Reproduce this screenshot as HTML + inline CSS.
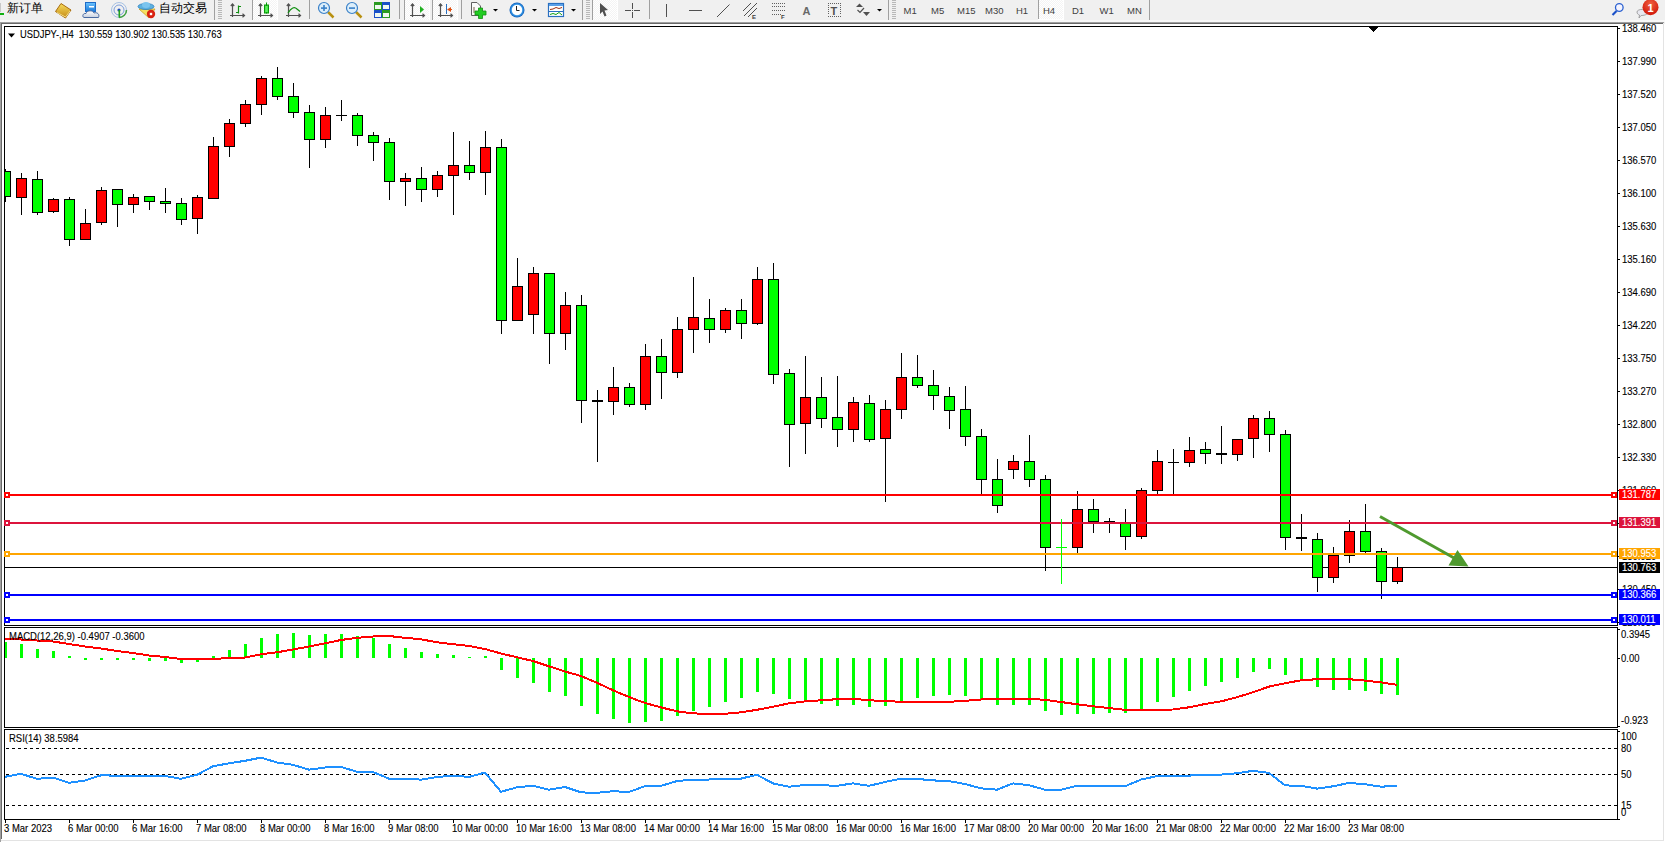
<!DOCTYPE html>
<html><head><meta charset="utf-8"><style>
html,body{margin:0;padding:0;}
body{width:1665px;height:842px;overflow:hidden;background:#f0f0f0;position:relative;font-family:"Liberation Sans", sans-serif;}
text{font-family:"Liberation Sans", sans-serif;}
</style></head><body>
<svg width="1665" height="22" viewBox="0 0 1665 22" style="position:absolute;left:0;top:0">
<defs>
<linearGradient id="gold" x1="0" y1="0" x2="0" y2="1"><stop offset="0" stop-color="#f7dc5a"/><stop offset="1" stop-color="#c48a18"/></linearGradient>
<linearGradient id="cloud" x1="0" y1="0" x2="0" y2="1"><stop offset="0" stop-color="#ffffff"/><stop offset="1" stop-color="#c8d0e0"/></linearGradient>
<linearGradient id="blu" x1="0" y1="0" x2="0" y2="1"><stop offset="0" stop-color="#6cc4ff"/><stop offset="1" stop-color="#1a78d8"/></linearGradient>
<radialGradient id="clk" cx="0.5" cy="0.5" r="0.5"><stop offset="0.6" stop-color="#ffffff"/><stop offset="0.75" stop-color="#3a9ae8"/><stop offset="1" stop-color="#0d5cb8"/></radialGradient>
<radialGradient id="badge" cx="0.5" cy="0.3" r="0.6"><stop offset="0" stop-color="#f06040"/><stop offset="1" stop-color="#d42010"/></radialGradient>
<pattern id="chk" width="2" height="2" patternUnits="userSpaceOnUse"><rect width="2" height="2" fill="#f4f4f4"/><rect width="1" height="1" fill="#ffffff"/><rect x="1" y="1" width="1" height="1" fill="#ffffff"/></pattern>
</defs>
<rect x="0" y="0" width="1665" height="20" fill="#f0f0f0"/>
<!-- partial new order icon -->
<rect x="0" y="13" width="4" height="2" fill="#10b010"/>
<rect x="0" y="3" width="1" height="9" fill="#c8c8c8"/>
<text x="7" y="12.4" font-size="12" fill="#000" font-family="'Liberation Sans', sans-serif">新订单</text>
<!-- gold book -->
<polygon points="55.5,11.5 61,3.5 71,10 65.5,18" fill="url(#gold)" stroke="#a86c10" stroke-width="1"/>
<polyline points="57,12.5 65.5,17 70,11" fill="none" stroke="#fff2a0" stroke-width="0.8"/>
<!-- cloud/box icon -->
<rect x="85.5" y="2.5" width="10" height="9" fill="url(#blu)" stroke="#1e6cc8" stroke-width="1"/>
<rect x="89" y="6" width="5" height="1.5" fill="#ffffff"/>
<path d="M84,17.5 C82,17 82.5,13 86,13.5 C87,10 93,10 94,13 C97,12 100,14 98.5,17.5 Z" fill="url(#cloud)" stroke="#4a6aa0" stroke-width="1"/>
<!-- signal icon -->
<g fill="none" stroke-width="1">
<circle cx="119" cy="10" r="7.5" stroke="#6a9ad8" opacity="0.55"/>
<circle cx="119" cy="10" r="5" stroke="#4a7ad0" opacity="0.7"/>
<path d="M119,17.5 A7.5,7.5 0 0 0 126.5,10" stroke="#40a040" stroke-width="1.5"/>
</g>
<circle cx="119" cy="10" r="1.6" fill="#2050c0"/>
<rect x="118.5" y="10" width="1.6" height="7.5" fill="#20a020"/>
<!-- auto trading icon -->
<polygon points="139,9 155,9 149,18" fill="#f4e060" stroke="#c8a020" stroke-width="0.8"/>
<ellipse cx="146" cy="6.5" rx="8" ry="3" fill="#5cb0e0" stroke="#2a80c0" stroke-width="0.8"/>
<ellipse cx="146" cy="5" rx="4" ry="3" fill="#7ac4ee"/>
<circle cx="151" cy="14" r="4.2" fill="#d82010"/>
<rect x="149.8" y="12.8" width="2.4" height="2.4" fill="#fff"/>
<text x="159.2" y="12.2" font-size="11.8" fill="#000" font-family="'Liberation Sans', sans-serif">自动交易</text>
<!-- separators & grips -->
<g fill="#a0a0a0">
<rect x="214" y="0" width="1" height="20"/>
<rect x="309" y="0" width="1" height="19"/>
<rect x="399" y="0" width="1" height="19"/>
<rect x="461" y="0" width="1" height="19"/>
<rect x="582" y="0" width="1" height="22"/>
<rect x="649" y="0" width="1" height="19"/>
<rect x="888" y="0" width="1" height="22"/>
<rect x="1149" y="0" width="1" height="20"/>
</g>
<g fill="#b8b8b8">
<rect x="218" y="0" width="4" height="1"/><rect x="218" y="2" width="4" height="1"/><rect x="218" y="4" width="4" height="1"/><rect x="218" y="6" width="4" height="1"/><rect x="218" y="8" width="4" height="1"/><rect x="218" y="10" width="4" height="1"/><rect x="218" y="12" width="4" height="1"/><rect x="218" y="14" width="4" height="1"/><rect x="218" y="16" width="4" height="1"/><rect x="218" y="18" width="4" height="1"/>
<rect x="586" y="0" width="4" height="1"/><rect x="586" y="2" width="4" height="1"/><rect x="586" y="4" width="4" height="1"/><rect x="586" y="6" width="4" height="1"/><rect x="586" y="8" width="4" height="1"/><rect x="586" y="10" width="4" height="1"/><rect x="586" y="12" width="4" height="1"/><rect x="586" y="14" width="4" height="1"/><rect x="586" y="16" width="4" height="1"/><rect x="586" y="18" width="4" height="1"/>
<rect x="892" y="0" width="4" height="1"/><rect x="892" y="2" width="4" height="1"/><rect x="892" y="4" width="4" height="1"/><rect x="892" y="6" width="4" height="1"/><rect x="892" y="8" width="4" height="1"/><rect x="892" y="10" width="4" height="1"/><rect x="892" y="12" width="4" height="1"/><rect x="892" y="14" width="4" height="1"/><rect x="892" y="16" width="4" height="1"/><rect x="892" y="18" width="4" height="1"/>
</g>
<!-- pressed buttons -->
<g>
<rect x="253" y="0" width="24" height="20" fill="url(#chk)"/><rect x="252" y="0" width="1" height="20" fill="#a0a0a0"/><rect x="252" y="20" width="26" height="1" fill="#fff"/><rect x="277" y="0" width="1" height="21" fill="#fff"/>
<rect x="405" y="0" width="24" height="20" fill="url(#chk)"/><rect x="404" y="0" width="1" height="20" fill="#a0a0a0"/><rect x="404" y="20" width="26" height="1" fill="#fff"/><rect x="429" y="0" width="1" height="21" fill="#fff"/>
<rect x="433" y="0" width="24" height="20" fill="url(#chk)"/><rect x="432" y="0" width="1" height="20" fill="#a0a0a0"/><rect x="432" y="20" width="26" height="1" fill="#fff"/><rect x="457" y="0" width="1" height="21" fill="#fff"/>
<rect x="593" y="0" width="24" height="20" fill="url(#chk)"/><rect x="592" y="0" width="1" height="20" fill="#a0a0a0"/><rect x="592" y="20" width="26" height="1" fill="#fff"/><rect x="617" y="0" width="1" height="21" fill="#fff"/>
<rect x="1039" y="0" width="24" height="19" fill="url(#chk)"/><rect x="1038" y="0" width="1" height="19" fill="#a0a0a0"/><rect x="1038" y="19" width="26" height="1" fill="#fff"/><rect x="1063" y="0" width="1" height="20" fill="#fff"/>
</g>
<!-- chart type icons: axes -->
<g fill="none" stroke="#505050" stroke-width="1.2">
<path d="M232.5,4.5 V17 M230,15.5 H244"/><path d="M230.8,6 L232.5,4 L234.2,6 M242.5,13.8 L244.5,15.5 L242.5,17.2"/>
<path d="M260.5,4.5 V17 M258,15.5 H272"/><path d="M258.8,6 L260.5,4 L262.2,6 M270.5,13.8 L272.5,15.5 L270.5,17.2"/>
<path d="M288.5,4.5 V17 M286,15.5 H300"/><path d="M286.8,6 L288.5,4 L290.2,6 M298.5,13.8 L300.5,15.5 L298.5,17.2"/>
<path d="M412.5,4.5 V17 M410,15.5 H424"/><path d="M410.8,6 L412.5,4 L414.2,6 M422.5,13.8 L424.5,15.5 L422.5,17.2"/>
<path d="M440.5,4.5 V17 M438,15.5 H452"/><path d="M438.8,6 L440.5,4 L442.2,6 M450.5,13.8 L452.5,15.5 L450.5,17.2"/>
</g>
<g fill="none" stroke="#109010" stroke-width="1.2">
<path d="M238.5,5.5 V13.5 M238.5,6.5 H241 M236,12.5 H238.5"/>
<path d="M288,13 Q293,5 297,9 L300,11.5" />
</g>
<rect x="264.5" y="5" width="4" height="8" fill="#40e040" stroke="#0a9a0a" stroke-width="1"/>
<rect x="266" y="2.5" width="1" height="11" fill="#0a9a0a"/>
<rect x="265.5" y="6" width="2" height="6" fill="#60f060"/>
<polygon points="420,6 424,9.5 420,13" fill="#20b020"/>
<rect x="446" y="4" width="1" height="10" fill="#2a70c0"/>
<polygon points="447,9.5 451,7 451,12" fill="#e05010"/><rect x="449" y="9" width="3" height="1" fill="#e05010"/>
<!-- zoom icons -->
<g>
<line x1="328" y1="12" x2="333.5" y2="17.5" stroke="#b89010" stroke-width="2.5"/>
<circle cx="324" cy="8" r="5.5" fill="#dceefa" stroke="#3a80c8" stroke-width="1.2"/>
<rect x="321" y="7.3" width="6" height="1.6" fill="#3a80c8"/><rect x="323.2" y="5" width="1.6" height="6" fill="#3a80c8"/>
<line x1="356" y1="12" x2="361.5" y2="17.5" stroke="#b89010" stroke-width="2.5"/>
<circle cx="352" cy="8" r="5.5" fill="#dceefa" stroke="#3a80c8" stroke-width="1.2"/>
<rect x="349" y="7.3" width="6" height="1.6" fill="#3a80c8"/>
</g>
<!-- tile windows -->
<rect x="374" y="2" width="8" height="8" fill="#2a9a20"/><rect x="382" y="2" width="8" height="8" fill="#1a50c8"/>
<rect x="374" y="10" width="8" height="8" fill="#1a50c8"/><rect x="382" y="10" width="8" height="8" fill="#2a9a20"/>
<g fill="#f0f8f0"><rect x="375" y="5" width="6" height="4"/><rect x="383" y="5" width="6" height="4"/><rect x="375" y="13" width="6" height="4"/><rect x="383" y="13" width="6" height="4"/></g>
<!-- indicators icon -->
<path d="M471.5,2.5 H477 L480.5,6 V15.5 H471.5 Z" fill="#fafafa" stroke="#606060" stroke-width="1"/>
<path d="M474,7 V13" stroke="#604020" stroke-width="0.8"/>
<path d="M478.5,8 H482.5 V11 H486 V15 H482.5 V18.5 H478.5 V15 H475 V11 H478.5 Z" fill="#22cc22" stroke="#109010" stroke-width="0.8"/>
<polygon points="493,9 498,9 495.5,11.5" fill="#000"/>
<!-- clock -->
<circle cx="517" cy="10" r="7.5" fill="url(#clk)"/>
<circle cx="517" cy="10" r="5" fill="#fff"/>
<path d="M516.5,6 V10.5 H519.5" stroke="#202020" stroke-width="1" fill="none"/>
<polygon points="532,9 537,9 534.5,11.5" fill="#000"/>
<!-- templates -->
<rect x="548.5" y="3.5" width="15" height="13" fill="#fff" stroke="#2a70c0" stroke-width="1.2"/>
<rect x="549" y="4" width="14" height="2" fill="#5aa0e8"/>
<rect x="549" y="11" width="14" height="1" fill="#2a70c0"/>
<polyline points="550,9.5 553,9 556,7.5 559,8.5 562,7.5" fill="none" stroke="#a03010" stroke-width="1"/>
<polyline points="550,14.5 553,13.5 556,14.5 559,12.5 562,15" fill="none" stroke="#10a010" stroke-width="1"/>
<polygon points="571,9 576,9 573.5,11.5" fill="#000"/>
<!-- cursor -->
<polygon points="600,3 608,10 604.5,10.5 606.5,15.5 604.5,16.5 602.5,11.5 600,14" fill="#505050"/>
<!-- crosshair -->
<rect x="632" y="3" width="1" height="15" fill="#505050"/><rect x="625" y="10" width="15" height="1" fill="#505050"/><rect x="631" y="9" width="3" height="3" fill="#f0f0f0"/><rect x="632" y="10" width="1" height="1" fill="#505050"/>
<!-- line tools -->
<rect x="666" y="4" width="1" height="13" fill="#505050"/>
<rect x="689" y="10" width="13" height="1" fill="#505050"/>
<line x1="717" y1="17" x2="729.5" y2="4.5" stroke="#505050" stroke-width="1"/>
<g stroke="#505050" stroke-width="1"><line x1="743" y1="11" x2="751" y2="3"/><line x1="744" y1="16" x2="757" y2="3"/><line x1="748" y1="17" x2="757" y2="8"/></g>
<text x="752" y="19" font-size="6" font-weight="bold" fill="#404040" font-family="'Liberation Sans', sans-serif">E</text>
<g fill="#606060"><rect x="772" y="3" width="14" height="1" fill="none"/></g>
<g stroke="#606060" stroke-width="1" stroke-dasharray="1,1"><line x1="772" y1="3.5" x2="786" y2="3.5"/><line x1="772" y1="6.5" x2="786" y2="6.5"/><line x1="772" y1="10.5" x2="786" y2="10.5"/><line x1="772" y1="14.5" x2="781" y2="14.5"/></g>
<text x="781" y="19" font-size="6" font-weight="bold" fill="#404040" font-family="'Liberation Sans', sans-serif">F</text>
<text x="802.5" y="15" font-size="11" font-weight="bold" fill="#686868" font-family="'Liberation Sans', sans-serif">A</text>
<g fill="#606060"><rect x="828" y="3" width="1" height="1"/><rect x="830" y="3" width="1" height="1"/><rect x="832" y="3" width="1" height="1"/><rect x="834" y="3" width="1" height="1"/><rect x="836" y="3" width="1" height="1"/><rect x="838" y="3" width="1" height="1"/><rect x="840" y="3" width="1" height="1"/><rect x="828" y="16" width="1" height="1"/><rect x="830" y="16" width="1" height="1"/><rect x="832" y="16" width="1" height="1"/><rect x="834" y="16" width="1" height="1"/><rect x="836" y="16" width="1" height="1"/><rect x="838" y="16" width="1" height="1"/><rect x="840" y="16" width="1" height="1"/><rect x="828" y="5" width="1" height="1"/><rect x="828" y="7" width="1" height="1"/><rect x="828" y="9" width="1" height="1"/><rect x="828" y="11" width="1" height="1"/><rect x="828" y="13" width="1" height="1"/><rect x="840" y="5" width="1" height="1"/><rect x="840" y="7" width="1" height="1"/><rect x="840" y="9" width="1" height="1"/><rect x="840" y="11" width="1" height="1"/><rect x="840" y="13" width="1" height="1"/></g>
<text x="830.5" y="14.5" font-size="11" font-weight="bold" fill="#505050" font-family="'Liberation Sans', sans-serif">T</text>
<polygon points="856,7 859.5,3.5 863,7" fill="#505050"/><polygon points="863,12 870,12 866.5,16" fill="#505050"/>
<polyline points="857.5,10 860,12.5 864,8" fill="none" stroke="#505050" stroke-width="1.2"/>
<polygon points="877,9 882,9 879.5,11.5" fill="#000"/>
<!-- timeframes -->
<g font-size="9.5" fill="#404040" font-family="'Liberation Sans', sans-serif">
<text x="903.5" y="14">M1</text><text x="931" y="14">M5</text><text x="957" y="14">M15</text><text x="985" y="14">M30</text><text x="1016" y="14">H1</text><text x="1043" y="14">H4</text><text x="1072" y="14">D1</text><text x="1099.5" y="14">W1</text><text x="1127" y="14">MN</text>
</g>
<!-- search & chat -->
<line x1="1612.5" y1="15" x2="1616.5" y2="11" stroke="#1a50c8" stroke-width="2.2"/>
<circle cx="1619.3" cy="7.5" r="3.8" fill="#f4f4ff" stroke="#2a60d0" stroke-width="1.3"/>
<path d="M1637,12 C1637,8.5 1648,8.5 1648,12 C1648,15 1643,15.5 1641,15.5 L1639,18 L1639.5,15 C1638,14.5 1637,13.5 1637,12 Z" fill="#e8e8f0" stroke="#909090" stroke-width="0.8"/>
<circle cx="1650.5" cy="7.2" r="8" fill="url(#badge)"/>
<text x="1650.5" y="11.5" font-size="11" font-weight="bold" fill="#fff" text-anchor="middle" font-family="'Liberation Sans', sans-serif">1</text>
</svg>

<svg width="1665" height="842" viewBox="0 0 1665 842" style="position:absolute;left:0;top:0" font-family='"Liberation Sans", sans-serif'>
<defs><clipPath id="cm"><rect x="5" y="27" width="1612" height="598"/></clipPath><clipPath id="cmacd"><rect x="5" y="628" width="1612" height="99"/></clipPath><clipPath id="crsi"><rect x="5" y="730" width="1612" height="89"/></clipPath></defs>
<rect x="0" y="20" width="1665" height="2" fill="#f8f8f8"/>
<rect x="0" y="22" width="1664" height="1" fill="#a0a0a0"/>
<rect x="0" y="23" width="1663" height="1" fill="#696969"/>
<rect x="0" y="24" width="1665" height="818" fill="#ffffff"/>
<rect x="0" y="22" width="1" height="820" fill="#a0a0a0"/>
<rect x="1" y="23" width="1" height="816" fill="#696969"/>
<rect x="1663" y="24" width="1" height="817" fill="#e3e3e3"/>
<rect x="1" y="840" width="1663" height="1" fill="#e3e3e3"/>
<g shape-rendering="crispEdges">
<rect x="4" y="26" width="1614" height="1" fill="#000"/>
<rect x="4" y="625" width="1614" height="1" fill="#000"/>
<rect x="4" y="26" width="1" height="600" fill="#000"/>
<rect x="1617" y="26" width="1" height="600" fill="#000"/>
<rect x="4" y="627" width="1614" height="1" fill="#000"/>
<rect x="4" y="727" width="1614" height="1" fill="#000"/>
<rect x="4" y="627" width="1" height="101" fill="#000"/>
<rect x="1617" y="627" width="1" height="101" fill="#000"/>
<rect x="4" y="729" width="1614" height="1" fill="#000"/>
<rect x="4" y="819" width="1614" height="1" fill="#000"/>
<rect x="4" y="729" width="1" height="91" fill="#000"/>
<rect x="1617" y="729" width="1" height="91" fill="#000"/>
<g clip-path="url(#cm)">
<rect x="5" y="567" width="1612" height="1" fill="#000"/>
<rect x="5" y="169" width="1" height="33" fill="#000"/>
<rect x="0" y="171" width="11" height="26" fill="#000"/>
<rect x="1" y="172" width="9" height="24" fill="#00ff00"/>
<rect x="21" y="173" width="1" height="42" fill="#000"/>
<rect x="16" y="178" width="11" height="20" fill="#000"/>
<rect x="17" y="179" width="9" height="18" fill="#ff0000"/>
<rect x="37" y="171" width="1" height="44" fill="#000"/>
<rect x="32" y="179" width="11" height="34" fill="#000"/>
<rect x="33" y="180" width="9" height="32" fill="#00ff00"/>
<rect x="53" y="198" width="1" height="15" fill="#000"/>
<rect x="48" y="199" width="11" height="13" fill="#000"/>
<rect x="49" y="200" width="9" height="11" fill="#ff0000"/>
<rect x="69" y="197" width="1" height="49" fill="#000"/>
<rect x="64" y="199" width="11" height="41" fill="#000"/>
<rect x="65" y="200" width="9" height="39" fill="#00ff00"/>
<rect x="85" y="209" width="1" height="31" fill="#000"/>
<rect x="80" y="223" width="11" height="17" fill="#000"/>
<rect x="81" y="224" width="9" height="15" fill="#ff0000"/>
<rect x="101" y="187" width="1" height="38" fill="#000"/>
<rect x="96" y="190" width="11" height="33" fill="#000"/>
<rect x="97" y="191" width="9" height="31" fill="#ff0000"/>
<rect x="117" y="189" width="1" height="38" fill="#000"/>
<rect x="112" y="189" width="11" height="16" fill="#000"/>
<rect x="113" y="190" width="9" height="14" fill="#00ff00"/>
<rect x="133" y="194" width="1" height="19" fill="#000"/>
<rect x="128" y="197" width="11" height="8" fill="#000"/>
<rect x="129" y="198" width="9" height="6" fill="#ff0000"/>
<rect x="149" y="196" width="1" height="14" fill="#000"/>
<rect x="144" y="196" width="11" height="6" fill="#000"/>
<rect x="145" y="197" width="9" height="4" fill="#00ff00"/>
<rect x="165" y="188" width="1" height="25" fill="#000"/>
<rect x="160" y="201" width="11" height="3" fill="#000"/>
<rect x="161" y="202" width="9" height="1" fill="#00ff00"/>
<rect x="181" y="198" width="1" height="27" fill="#000"/>
<rect x="176" y="203" width="11" height="17" fill="#000"/>
<rect x="177" y="204" width="9" height="15" fill="#00ff00"/>
<rect x="197" y="195" width="1" height="39" fill="#000"/>
<rect x="192" y="197" width="11" height="22" fill="#000"/>
<rect x="193" y="198" width="9" height="20" fill="#ff0000"/>
<rect x="213" y="137" width="1" height="62" fill="#000"/>
<rect x="208" y="146" width="11" height="53" fill="#000"/>
<rect x="209" y="147" width="9" height="51" fill="#ff0000"/>
<rect x="229" y="119" width="1" height="38" fill="#000"/>
<rect x="224" y="123" width="11" height="24" fill="#000"/>
<rect x="225" y="124" width="9" height="22" fill="#ff0000"/>
<rect x="245" y="100" width="1" height="27" fill="#000"/>
<rect x="240" y="104" width="11" height="20" fill="#000"/>
<rect x="241" y="105" width="9" height="18" fill="#ff0000"/>
<rect x="261" y="76" width="1" height="39" fill="#000"/>
<rect x="256" y="78" width="11" height="27" fill="#000"/>
<rect x="257" y="79" width="9" height="25" fill="#ff0000"/>
<rect x="277" y="67" width="1" height="33" fill="#000"/>
<rect x="272" y="78" width="11" height="19" fill="#000"/>
<rect x="273" y="79" width="9" height="17" fill="#00ff00"/>
<rect x="293" y="83" width="1" height="35" fill="#000"/>
<rect x="288" y="96" width="11" height="17" fill="#000"/>
<rect x="289" y="97" width="9" height="15" fill="#00ff00"/>
<rect x="309" y="105" width="1" height="63" fill="#000"/>
<rect x="304" y="112" width="11" height="28" fill="#000"/>
<rect x="305" y="113" width="9" height="26" fill="#00ff00"/>
<rect x="325" y="107" width="1" height="41" fill="#000"/>
<rect x="320" y="115" width="11" height="25" fill="#000"/>
<rect x="321" y="116" width="9" height="23" fill="#ff0000"/>
<rect x="341" y="100" width="1" height="21" fill="#000"/>
<rect x="336" y="115" width="11" height="1" fill="#000"/>
<rect x="357" y="113" width="1" height="33" fill="#000"/>
<rect x="352" y="115" width="11" height="21" fill="#000"/>
<rect x="353" y="116" width="9" height="19" fill="#00ff00"/>
<rect x="373" y="132" width="1" height="29" fill="#000"/>
<rect x="368" y="135" width="11" height="8" fill="#000"/>
<rect x="369" y="136" width="9" height="6" fill="#00ff00"/>
<rect x="389" y="138" width="1" height="62" fill="#000"/>
<rect x="384" y="142" width="11" height="40" fill="#000"/>
<rect x="385" y="143" width="9" height="38" fill="#00ff00"/>
<rect x="405" y="173" width="1" height="33" fill="#000"/>
<rect x="400" y="178" width="11" height="4" fill="#000"/>
<rect x="401" y="179" width="9" height="2" fill="#ff0000"/>
<rect x="421" y="167" width="1" height="35" fill="#000"/>
<rect x="416" y="178" width="11" height="12" fill="#000"/>
<rect x="417" y="179" width="9" height="10" fill="#00ff00"/>
<rect x="437" y="171" width="1" height="26" fill="#000"/>
<rect x="432" y="175" width="11" height="15" fill="#000"/>
<rect x="433" y="176" width="9" height="13" fill="#ff0000"/>
<rect x="453" y="132" width="1" height="83" fill="#000"/>
<rect x="448" y="165" width="11" height="11" fill="#000"/>
<rect x="449" y="166" width="9" height="9" fill="#ff0000"/>
<rect x="469" y="141" width="1" height="39" fill="#000"/>
<rect x="464" y="165" width="11" height="8" fill="#000"/>
<rect x="465" y="166" width="9" height="6" fill="#00ff00"/>
<rect x="485" y="131" width="1" height="64" fill="#000"/>
<rect x="480" y="147" width="11" height="26" fill="#000"/>
<rect x="481" y="148" width="9" height="24" fill="#ff0000"/>
<rect x="501" y="139" width="1" height="195" fill="#000"/>
<rect x="496" y="147" width="11" height="174" fill="#000"/>
<rect x="497" y="148" width="9" height="172" fill="#00ff00"/>
<rect x="517" y="258" width="1" height="63" fill="#000"/>
<rect x="512" y="286" width="11" height="35" fill="#000"/>
<rect x="513" y="287" width="9" height="33" fill="#ff0000"/>
<rect x="533" y="267" width="1" height="67" fill="#000"/>
<rect x="528" y="273" width="11" height="42" fill="#000"/>
<rect x="529" y="274" width="9" height="40" fill="#ff0000"/>
<rect x="549" y="273" width="1" height="91" fill="#000"/>
<rect x="544" y="273" width="11" height="61" fill="#000"/>
<rect x="545" y="274" width="9" height="59" fill="#00ff00"/>
<rect x="565" y="292" width="1" height="58" fill="#000"/>
<rect x="560" y="305" width="11" height="29" fill="#000"/>
<rect x="561" y="306" width="9" height="27" fill="#ff0000"/>
<rect x="581" y="295" width="1" height="128" fill="#000"/>
<rect x="576" y="305" width="11" height="96" fill="#000"/>
<rect x="577" y="306" width="9" height="94" fill="#00ff00"/>
<rect x="597" y="390" width="1" height="72" fill="#000"/>
<rect x="592" y="400" width="11" height="2" fill="#000"/>
<rect x="613" y="367" width="1" height="48" fill="#000"/>
<rect x="608" y="387" width="11" height="15" fill="#000"/>
<rect x="609" y="388" width="9" height="13" fill="#ff0000"/>
<rect x="629" y="383" width="1" height="24" fill="#000"/>
<rect x="624" y="387" width="11" height="18" fill="#000"/>
<rect x="625" y="388" width="9" height="16" fill="#00ff00"/>
<rect x="645" y="344" width="1" height="66" fill="#000"/>
<rect x="640" y="356" width="11" height="49" fill="#000"/>
<rect x="641" y="357" width="9" height="47" fill="#ff0000"/>
<rect x="661" y="339" width="1" height="60" fill="#000"/>
<rect x="656" y="356" width="11" height="17" fill="#000"/>
<rect x="657" y="357" width="9" height="15" fill="#00ff00"/>
<rect x="677" y="317" width="1" height="61" fill="#000"/>
<rect x="672" y="329" width="11" height="44" fill="#000"/>
<rect x="673" y="330" width="9" height="42" fill="#ff0000"/>
<rect x="693" y="277" width="1" height="76" fill="#000"/>
<rect x="688" y="317" width="11" height="13" fill="#000"/>
<rect x="689" y="318" width="9" height="11" fill="#ff0000"/>
<rect x="709" y="299" width="1" height="44" fill="#000"/>
<rect x="704" y="318" width="11" height="12" fill="#000"/>
<rect x="705" y="319" width="9" height="10" fill="#00ff00"/>
<rect x="725" y="308" width="1" height="25" fill="#000"/>
<rect x="720" y="310" width="11" height="20" fill="#000"/>
<rect x="721" y="311" width="9" height="18" fill="#ff0000"/>
<rect x="741" y="299" width="1" height="40" fill="#000"/>
<rect x="736" y="310" width="11" height="14" fill="#000"/>
<rect x="737" y="311" width="9" height="12" fill="#00ff00"/>
<rect x="757" y="267" width="1" height="58" fill="#000"/>
<rect x="752" y="279" width="11" height="45" fill="#000"/>
<rect x="753" y="280" width="9" height="43" fill="#ff0000"/>
<rect x="773" y="263" width="1" height="121" fill="#000"/>
<rect x="768" y="279" width="11" height="96" fill="#000"/>
<rect x="769" y="280" width="9" height="94" fill="#00ff00"/>
<rect x="789" y="369" width="1" height="98" fill="#000"/>
<rect x="784" y="373" width="11" height="52" fill="#000"/>
<rect x="785" y="374" width="9" height="50" fill="#00ff00"/>
<rect x="805" y="356" width="1" height="98" fill="#000"/>
<rect x="800" y="397" width="11" height="27" fill="#000"/>
<rect x="801" y="398" width="9" height="25" fill="#ff0000"/>
<rect x="821" y="377" width="1" height="51" fill="#000"/>
<rect x="816" y="397" width="11" height="22" fill="#000"/>
<rect x="817" y="398" width="9" height="20" fill="#00ff00"/>
<rect x="837" y="376" width="1" height="71" fill="#000"/>
<rect x="832" y="417" width="11" height="13" fill="#000"/>
<rect x="833" y="418" width="9" height="11" fill="#00ff00"/>
<rect x="853" y="397" width="1" height="45" fill="#000"/>
<rect x="848" y="402" width="11" height="28" fill="#000"/>
<rect x="849" y="403" width="9" height="26" fill="#ff0000"/>
<rect x="869" y="395" width="1" height="47" fill="#000"/>
<rect x="864" y="403" width="11" height="37" fill="#000"/>
<rect x="865" y="404" width="9" height="35" fill="#00ff00"/>
<rect x="885" y="400" width="1" height="102" fill="#000"/>
<rect x="880" y="409" width="11" height="30" fill="#000"/>
<rect x="881" y="410" width="9" height="28" fill="#ff0000"/>
<rect x="901" y="353" width="1" height="66" fill="#000"/>
<rect x="896" y="377" width="11" height="33" fill="#000"/>
<rect x="897" y="378" width="9" height="31" fill="#ff0000"/>
<rect x="917" y="355" width="1" height="33" fill="#000"/>
<rect x="912" y="377" width="11" height="9" fill="#000"/>
<rect x="913" y="378" width="9" height="7" fill="#00ff00"/>
<rect x="933" y="370" width="1" height="40" fill="#000"/>
<rect x="928" y="385" width="11" height="11" fill="#000"/>
<rect x="929" y="386" width="9" height="9" fill="#00ff00"/>
<rect x="949" y="387" width="1" height="42" fill="#000"/>
<rect x="944" y="396" width="11" height="15" fill="#000"/>
<rect x="945" y="397" width="9" height="13" fill="#00ff00"/>
<rect x="965" y="386" width="1" height="60" fill="#000"/>
<rect x="960" y="409" width="11" height="28" fill="#000"/>
<rect x="961" y="410" width="9" height="26" fill="#00ff00"/>
<rect x="981" y="429" width="1" height="66" fill="#000"/>
<rect x="976" y="436" width="11" height="44" fill="#000"/>
<rect x="977" y="437" width="9" height="42" fill="#00ff00"/>
<rect x="997" y="459" width="1" height="54" fill="#000"/>
<rect x="992" y="479" width="11" height="27" fill="#000"/>
<rect x="993" y="480" width="9" height="25" fill="#00ff00"/>
<rect x="1013" y="455" width="1" height="24" fill="#000"/>
<rect x="1008" y="461" width="11" height="9" fill="#000"/>
<rect x="1009" y="462" width="9" height="7" fill="#ff0000"/>
<rect x="1029" y="435" width="1" height="52" fill="#000"/>
<rect x="1024" y="461" width="11" height="19" fill="#000"/>
<rect x="1025" y="462" width="9" height="17" fill="#00ff00"/>
<rect x="1045" y="475" width="1" height="96" fill="#000"/>
<rect x="1040" y="479" width="11" height="69" fill="#000"/>
<rect x="1041" y="480" width="9" height="67" fill="#00ff00"/>
<rect x="1077" y="491" width="1" height="62" fill="#000"/>
<rect x="1072" y="509" width="11" height="39" fill="#000"/>
<rect x="1073" y="510" width="9" height="37" fill="#ff0000"/>
<rect x="1093" y="499" width="1" height="34" fill="#000"/>
<rect x="1088" y="509" width="11" height="13" fill="#000"/>
<rect x="1089" y="510" width="9" height="11" fill="#00ff00"/>
<rect x="1109" y="518" width="1" height="15" fill="#000"/>
<rect x="1104" y="521" width="11" height="1" fill="#000"/>
<rect x="1125" y="509" width="1" height="41" fill="#000"/>
<rect x="1120" y="523" width="11" height="14" fill="#000"/>
<rect x="1121" y="524" width="9" height="12" fill="#00ff00"/>
<rect x="1141" y="488" width="1" height="51" fill="#000"/>
<rect x="1136" y="490" width="11" height="47" fill="#000"/>
<rect x="1137" y="491" width="9" height="45" fill="#ff0000"/>
<rect x="1157" y="450" width="1" height="44" fill="#000"/>
<rect x="1152" y="461" width="11" height="30" fill="#000"/>
<rect x="1153" y="462" width="9" height="28" fill="#ff0000"/>
<rect x="1173" y="449" width="1" height="45" fill="#000"/>
<rect x="1168" y="462" width="11" height="1" fill="#000"/>
<rect x="1189" y="437" width="1" height="30" fill="#000"/>
<rect x="1184" y="450" width="11" height="13" fill="#000"/>
<rect x="1185" y="451" width="9" height="11" fill="#ff0000"/>
<rect x="1205" y="442" width="1" height="22" fill="#000"/>
<rect x="1200" y="449" width="11" height="5" fill="#000"/>
<rect x="1201" y="450" width="9" height="3" fill="#00ff00"/>
<rect x="1221" y="426" width="1" height="38" fill="#000"/>
<rect x="1216" y="453" width="11" height="2" fill="#000"/>
<rect x="1237" y="439" width="1" height="22" fill="#000"/>
<rect x="1232" y="439" width="11" height="16" fill="#000"/>
<rect x="1233" y="440" width="9" height="14" fill="#ff0000"/>
<rect x="1253" y="415" width="1" height="43" fill="#000"/>
<rect x="1248" y="418" width="11" height="21" fill="#000"/>
<rect x="1249" y="419" width="9" height="19" fill="#ff0000"/>
<rect x="1269" y="411" width="1" height="41" fill="#000"/>
<rect x="1264" y="418" width="11" height="17" fill="#000"/>
<rect x="1265" y="419" width="9" height="15" fill="#00ff00"/>
<rect x="1285" y="430" width="1" height="120" fill="#000"/>
<rect x="1280" y="434" width="11" height="104" fill="#000"/>
<rect x="1281" y="435" width="9" height="102" fill="#00ff00"/>
<rect x="1301" y="514" width="1" height="37" fill="#000"/>
<rect x="1296" y="537" width="11" height="2" fill="#000"/>
<rect x="1317" y="533" width="1" height="59" fill="#000"/>
<rect x="1312" y="539" width="11" height="39" fill="#000"/>
<rect x="1313" y="540" width="9" height="37" fill="#00ff00"/>
<rect x="1333" y="547" width="1" height="36" fill="#000"/>
<rect x="1328" y="555" width="11" height="23" fill="#000"/>
<rect x="1329" y="556" width="9" height="21" fill="#ff0000"/>
<rect x="1349" y="520" width="1" height="43" fill="#000"/>
<rect x="1344" y="531" width="11" height="25" fill="#000"/>
<rect x="1345" y="532" width="9" height="23" fill="#ff0000"/>
<rect x="1365" y="504" width="1" height="49" fill="#000"/>
<rect x="1360" y="531" width="11" height="21" fill="#000"/>
<rect x="1361" y="532" width="9" height="19" fill="#00ff00"/>
<rect x="1381" y="548" width="1" height="51" fill="#000"/>
<rect x="1376" y="551" width="11" height="31" fill="#000"/>
<rect x="1377" y="552" width="9" height="29" fill="#00ff00"/>
<rect x="1397" y="557" width="1" height="27" fill="#000"/>
<rect x="1392" y="567" width="11" height="15" fill="#000"/>
<rect x="1393" y="568" width="9" height="13" fill="#ff0000"/>
<rect x="5" y="494" width="1612" height="2" fill="#ff0000"/>
<rect x="4" y="492" width="6" height="6" fill="#ff0000"/>
<rect x="6" y="494" width="2" height="2" fill="#fff"/>
<rect x="1611" y="492" width="6" height="6" fill="#ff0000"/>
<rect x="1613" y="494" width="2" height="2" fill="#fff"/>
<rect x="5" y="522" width="1612" height="2" fill="#dc143c"/>
<rect x="4" y="520" width="6" height="6" fill="#dc143c"/>
<rect x="6" y="522" width="2" height="2" fill="#fff"/>
<rect x="1611" y="520" width="6" height="6" fill="#dc143c"/>
<rect x="1613" y="522" width="2" height="2" fill="#fff"/>
<rect x="5" y="553" width="1612" height="2" fill="#ffa500"/>
<rect x="4" y="551" width="6" height="6" fill="#ffa500"/>
<rect x="6" y="553" width="2" height="2" fill="#fff"/>
<rect x="1611" y="551" width="6" height="6" fill="#ffa500"/>
<rect x="1613" y="553" width="2" height="2" fill="#fff"/>
<rect x="5" y="594" width="1612" height="2" fill="#0000ff"/>
<rect x="4" y="592" width="6" height="6" fill="#0000ff"/>
<rect x="6" y="594" width="2" height="2" fill="#fff"/>
<rect x="1611" y="592" width="6" height="6" fill="#0000ff"/>
<rect x="1613" y="594" width="2" height="2" fill="#fff"/>
<rect x="5" y="619" width="1612" height="2" fill="#0000ff"/>
<rect x="4" y="617" width="6" height="6" fill="#0000ff"/>
<rect x="6" y="619" width="2" height="2" fill="#fff"/>
<rect x="1611" y="617" width="6" height="6" fill="#0000ff"/>
<rect x="1613" y="619" width="2" height="2" fill="#fff"/>
</g>
<rect x="4" y="492" width="6" height="6" fill="#ff0000"/>
<rect x="6" y="494" width="2" height="2" fill="#fff"/>
<rect x="4" y="520" width="6" height="6" fill="#dc143c"/>
<rect x="6" y="522" width="2" height="2" fill="#fff"/>
<rect x="4" y="551" width="6" height="6" fill="#ffa500"/>
<rect x="6" y="553" width="2" height="2" fill="#fff"/>
<rect x="4" y="592" width="6" height="6" fill="#0000ff"/>
<rect x="6" y="594" width="2" height="2" fill="#fff"/>
<rect x="4" y="617" width="6" height="6" fill="#0000ff"/>
<rect x="6" y="619" width="2" height="2" fill="#fff"/>
</g>
<g fill="#4f9a2f" stroke="none">
<line x1="1380" y1="516.5" x2="1455" y2="558.5" stroke="#4f9a2f" stroke-width="3"/>
<polygon points="1457.5,550 1448.5,565.5 1468.5,566.5"/>
</g>
<g shape-rendering="crispEdges">
<rect x="1061" y="519" width="1" height="65" fill="#00ff00"/>
<rect x="1056" y="547" width="11" height="1" fill="#00ff00"/>
<g clip-path="url(#cmacd)">
<rect x="4" y="642" width="3" height="16" fill="#00ff00"/>
<rect x="20" y="644" width="3" height="14" fill="#00ff00"/>
<rect x="36" y="649" width="3" height="9" fill="#00ff00"/>
<rect x="52" y="651" width="3" height="7" fill="#00ff00"/>
<rect x="68" y="656" width="3" height="2" fill="#00ff00"/>
<rect x="84" y="658" width="3" height="2" fill="#00ff00"/>
<rect x="100" y="658" width="3" height="2" fill="#00ff00"/>
<rect x="116" y="658" width="3" height="2" fill="#00ff00"/>
<rect x="132" y="658" width="3" height="2" fill="#00ff00"/>
<rect x="148" y="658" width="3" height="3" fill="#00ff00"/>
<rect x="164" y="658" width="3" height="3" fill="#00ff00"/>
<rect x="180" y="658" width="3" height="5" fill="#00ff00"/>
<rect x="196" y="658" width="3" height="4" fill="#00ff00"/>
<rect x="212" y="656" width="3" height="2" fill="#00ff00"/>
<rect x="228" y="650" width="3" height="8" fill="#00ff00"/>
<rect x="244" y="644" width="3" height="14" fill="#00ff00"/>
<rect x="260" y="638" width="3" height="20" fill="#00ff00"/>
<rect x="276" y="634" width="3" height="24" fill="#00ff00"/>
<rect x="292" y="633" width="3" height="25" fill="#00ff00"/>
<rect x="308" y="635" width="3" height="23" fill="#00ff00"/>
<rect x="324" y="634" width="3" height="24" fill="#00ff00"/>
<rect x="340" y="634" width="3" height="24" fill="#00ff00"/>
<rect x="356" y="636" width="3" height="22" fill="#00ff00"/>
<rect x="372" y="638" width="3" height="20" fill="#00ff00"/>
<rect x="388" y="644" width="3" height="14" fill="#00ff00"/>
<rect x="404" y="648" width="3" height="10" fill="#00ff00"/>
<rect x="420" y="652" width="3" height="6" fill="#00ff00"/>
<rect x="436" y="654" width="3" height="4" fill="#00ff00"/>
<rect x="452" y="655" width="3" height="3" fill="#00ff00"/>
<rect x="468" y="657" width="3" height="1" fill="#00ff00"/>
<rect x="484" y="656" width="3" height="2" fill="#00ff00"/>
<rect x="500" y="658" width="3" height="12" fill="#00ff00"/>
<rect x="516" y="658" width="3" height="20" fill="#00ff00"/>
<rect x="532" y="658" width="3" height="25" fill="#00ff00"/>
<rect x="548" y="658" width="3" height="34" fill="#00ff00"/>
<rect x="564" y="658" width="3" height="38" fill="#00ff00"/>
<rect x="580" y="658" width="3" height="48" fill="#00ff00"/>
<rect x="596" y="658" width="3" height="56" fill="#00ff00"/>
<rect x="612" y="658" width="3" height="61" fill="#00ff00"/>
<rect x="628" y="658" width="3" height="65" fill="#00ff00"/>
<rect x="644" y="658" width="3" height="64" fill="#00ff00"/>
<rect x="660" y="658" width="3" height="63" fill="#00ff00"/>
<rect x="676" y="658" width="3" height="58" fill="#00ff00"/>
<rect x="692" y="658" width="3" height="53" fill="#00ff00"/>
<rect x="708" y="658" width="3" height="49" fill="#00ff00"/>
<rect x="724" y="658" width="3" height="44" fill="#00ff00"/>
<rect x="740" y="658" width="3" height="40" fill="#00ff00"/>
<rect x="756" y="658" width="3" height="34" fill="#00ff00"/>
<rect x="772" y="658" width="3" height="36" fill="#00ff00"/>
<rect x="788" y="658" width="3" height="41" fill="#00ff00"/>
<rect x="804" y="658" width="3" height="43" fill="#00ff00"/>
<rect x="820" y="658" width="3" height="46" fill="#00ff00"/>
<rect x="836" y="658" width="3" height="48" fill="#00ff00"/>
<rect x="852" y="658" width="3" height="47" fill="#00ff00"/>
<rect x="868" y="658" width="3" height="49" fill="#00ff00"/>
<rect x="884" y="658" width="3" height="48" fill="#00ff00"/>
<rect x="900" y="658" width="3" height="44" fill="#00ff00"/>
<rect x="916" y="658" width="3" height="40" fill="#00ff00"/>
<rect x="932" y="658" width="3" height="38" fill="#00ff00"/>
<rect x="948" y="658" width="3" height="37" fill="#00ff00"/>
<rect x="964" y="658" width="3" height="38" fill="#00ff00"/>
<rect x="980" y="658" width="3" height="41" fill="#00ff00"/>
<rect x="996" y="658" width="3" height="47" fill="#00ff00"/>
<rect x="1012" y="658" width="3" height="47" fill="#00ff00"/>
<rect x="1028" y="658" width="3" height="47" fill="#00ff00"/>
<rect x="1044" y="658" width="3" height="53" fill="#00ff00"/>
<rect x="1060" y="658" width="3" height="57" fill="#00ff00"/>
<rect x="1076" y="658" width="3" height="56" fill="#00ff00"/>
<rect x="1092" y="658" width="3" height="56" fill="#00ff00"/>
<rect x="1108" y="658" width="3" height="55" fill="#00ff00"/>
<rect x="1124" y="658" width="3" height="55" fill="#00ff00"/>
<rect x="1140" y="658" width="3" height="52" fill="#00ff00"/>
<rect x="1156" y="658" width="3" height="44" fill="#00ff00"/>
<rect x="1172" y="658" width="3" height="39" fill="#00ff00"/>
<rect x="1188" y="658" width="3" height="33" fill="#00ff00"/>
<rect x="1204" y="658" width="3" height="28" fill="#00ff00"/>
<rect x="1220" y="658" width="3" height="24" fill="#00ff00"/>
<rect x="1236" y="658" width="3" height="20" fill="#00ff00"/>
<rect x="1252" y="658" width="3" height="14" fill="#00ff00"/>
<rect x="1268" y="658" width="3" height="11" fill="#00ff00"/>
<rect x="1284" y="658" width="3" height="17" fill="#00ff00"/>
<rect x="1300" y="658" width="3" height="22" fill="#00ff00"/>
<rect x="1316" y="658" width="3" height="29" fill="#00ff00"/>
<rect x="1332" y="658" width="3" height="32" fill="#00ff00"/>
<rect x="1348" y="658" width="3" height="32" fill="#00ff00"/>
<rect x="1364" y="658" width="3" height="33" fill="#00ff00"/>
<rect x="1380" y="658" width="3" height="36" fill="#00ff00"/>
<rect x="1396" y="658" width="3" height="37" fill="#00ff00"/>
<polyline points="5,638.5 21,639.5 37,640.5 53,641.5 69,644.0 85,646.5 101,648.5 117,651.0 133,653.0 149,655.5 165,657.0 181,659.0 197,659.0 213,659.0 229,658.0 245,657.5 261,654.3 277,652.3 293,649.5 309,646.5 325,643.3 341,640.0 357,637.8 373,636.5 389,636.0 405,637.8 421,639.3 437,642.3 453,644.2 469,646.0 485,649.0 501,653.5 517,657.3 533,661.0 549,666.3 565,671.5 581,676.0 597,682.8 613,690.3 629,697.0 645,703.0 661,707.4 677,711.3 693,713.4 709,713.8 725,713.8 741,712.3 757,709.8 773,706.8 789,703.3 805,701.4 821,700.3 837,699.2 853,698.8 869,700.3 885,701.0 901,701.8 917,701.8 933,701.8 949,701.8 965,700.8 981,699.5 997,698.8 1013,698.8 1029,698.8 1045,699.8 1061,702.0 1077,704.3 1093,706.3 1109,708.1 1125,709.8 1141,709.8 1157,709.8 1173,709.5 1189,707.3 1205,704.0 1221,701.4 1237,697.2 1253,692.3 1269,686.6 1285,683.3 1301,680.3 1317,679.2 1333,678.8 1349,679.2 1365,680.6 1381,682.4 1397,684.8" fill="none" stroke="#ff0000" stroke-width="2"/>
</g>
<g clip-path="url(#crsi)">
<line x1="6" y1="748.5" x2="1617" y2="748.5" stroke="#000" stroke-width="1" stroke-dasharray="3,3"/>
<line x1="6" y1="774.5" x2="1617" y2="774.5" stroke="#000" stroke-width="1" stroke-dasharray="3,3"/>
<line x1="6" y1="805.5" x2="1617" y2="805.5" stroke="#000" stroke-width="1" stroke-dasharray="3,3"/>
<polyline points="5,776.8 21,773.8 37,778.8 53,777.5 69,782.8 85,780.5 101,775.3 117,775.7 133,775.7 149,775.7 165,776.0 181,778.8 197,774.8 213,766.3 229,763.3 245,760.8 261,757.6 277,762.5 293,764.8 309,769.7 325,767.5 341,767.0 357,771.7 373,772.0 389,778.7 405,778.7 421,779.6 437,777.1 453,775.6 469,776.9 485,772.6 501,791.8 517,787.3 533,785.8 549,789.7 565,787.0 581,792.4 597,792.8 613,791.2 629,792.0 645,786.1 661,785.8 677,781.1 693,779.5 709,779.5 725,778.6 741,778.6 757,774.8 773,783.4 789,786.7 805,784.9 821,785.2 837,785.8 853,783.4 869,785.8 885,782.0 901,778.6 917,778.9 933,780.4 949,781.1 965,784.0 981,788.3 997,789.7 1013,783.4 1029,785.2 1045,789.7 1061,789.7 1077,785.8 1093,786.1 1109,786.5 1125,786.3 1141,779.6 1157,776.1 1173,775.6 1189,775.6 1205,774.6 1221,774.6 1237,773.3 1253,770.8 1269,772.9 1285,785.4 1301,785.8 1317,788.6 1333,786.3 1349,782.9 1365,784.2 1381,786.7 1397,785.8" fill="none" stroke="#1e90ff" stroke-width="2"/>
</g>
<polygon points="1368,26 1379,26 1373.5,32.2" fill="#000"/>
<rect x="1618" y="28" width="2" height="1" fill="#000"/>
<rect x="1618" y="61" width="2" height="1" fill="#000"/>
<rect x="1618" y="94" width="2" height="1" fill="#000"/>
<rect x="1618" y="127" width="2" height="1" fill="#000"/>
<rect x="1618" y="160" width="2" height="1" fill="#000"/>
<rect x="1618" y="193" width="2" height="1" fill="#000"/>
<rect x="1618" y="226" width="2" height="1" fill="#000"/>
<rect x="1618" y="259" width="2" height="1" fill="#000"/>
<rect x="1618" y="292" width="2" height="1" fill="#000"/>
<rect x="1618" y="325" width="2" height="1" fill="#000"/>
<rect x="1618" y="358" width="2" height="1" fill="#000"/>
<rect x="1618" y="391" width="2" height="1" fill="#000"/>
<rect x="1618" y="424" width="2" height="1" fill="#000"/>
<rect x="1618" y="457" width="2" height="1" fill="#000"/>
<rect x="1618" y="490" width="2" height="1" fill="#000"/>
<rect x="1618" y="523" width="2" height="1" fill="#000"/>
<rect x="1618" y="556" width="2" height="1" fill="#000"/>
<rect x="1618" y="589" width="2" height="1" fill="#000"/>
<rect x="1618" y="622" width="2" height="1" fill="#000"/>
</g>
<text transform="translate(1622 32) scale(1 1.08)" x="0" y="0" font-size="9.5" fill="#000" stroke="#000" stroke-width="0.1" text-anchor="start" >138.460</text>
<text transform="translate(1622 65) scale(1 1.08)" x="0" y="0" font-size="9.5" fill="#000" stroke="#000" stroke-width="0.1" text-anchor="start" >137.990</text>
<text transform="translate(1622 98) scale(1 1.08)" x="0" y="0" font-size="9.5" fill="#000" stroke="#000" stroke-width="0.1" text-anchor="start" >137.520</text>
<text transform="translate(1622 131) scale(1 1.08)" x="0" y="0" font-size="9.5" fill="#000" stroke="#000" stroke-width="0.1" text-anchor="start" >137.050</text>
<text transform="translate(1622 164) scale(1 1.08)" x="0" y="0" font-size="9.5" fill="#000" stroke="#000" stroke-width="0.1" text-anchor="start" >136.570</text>
<text transform="translate(1622 197) scale(1 1.08)" x="0" y="0" font-size="9.5" fill="#000" stroke="#000" stroke-width="0.1" text-anchor="start" >136.100</text>
<text transform="translate(1622 230) scale(1 1.08)" x="0" y="0" font-size="9.5" fill="#000" stroke="#000" stroke-width="0.1" text-anchor="start" >135.630</text>
<text transform="translate(1622 263) scale(1 1.08)" x="0" y="0" font-size="9.5" fill="#000" stroke="#000" stroke-width="0.1" text-anchor="start" >135.160</text>
<text transform="translate(1622 296) scale(1 1.08)" x="0" y="0" font-size="9.5" fill="#000" stroke="#000" stroke-width="0.1" text-anchor="start" >134.690</text>
<text transform="translate(1622 329) scale(1 1.08)" x="0" y="0" font-size="9.5" fill="#000" stroke="#000" stroke-width="0.1" text-anchor="start" >134.220</text>
<text transform="translate(1622 362) scale(1 1.08)" x="0" y="0" font-size="9.5" fill="#000" stroke="#000" stroke-width="0.1" text-anchor="start" >133.750</text>
<text transform="translate(1622 395) scale(1 1.08)" x="0" y="0" font-size="9.5" fill="#000" stroke="#000" stroke-width="0.1" text-anchor="start" >133.270</text>
<text transform="translate(1622 428) scale(1 1.08)" x="0" y="0" font-size="9.5" fill="#000" stroke="#000" stroke-width="0.1" text-anchor="start" >132.800</text>
<text transform="translate(1622 461) scale(1 1.08)" x="0" y="0" font-size="9.5" fill="#000" stroke="#000" stroke-width="0.1" text-anchor="start" >132.330</text>
<text transform="translate(1622 494) scale(1 1.08)" x="0" y="0" font-size="9.5" fill="#000" stroke="#000" stroke-width="0.1" text-anchor="start" >131.860</text>
<text transform="translate(1622 527) scale(1 1.08)" x="0" y="0" font-size="9.5" fill="#000" stroke="#000" stroke-width="0.1" text-anchor="start" >131.390</text>
<text transform="translate(1622 560) scale(1 1.08)" x="0" y="0" font-size="9.5" fill="#000" stroke="#000" stroke-width="0.1" text-anchor="start" >130.920</text>
<text transform="translate(1622 593) scale(1 1.08)" x="0" y="0" font-size="9.5" fill="#000" stroke="#000" stroke-width="0.1" text-anchor="start" >130.450</text>
<text transform="translate(1622 626) scale(1 1.08)" x="0" y="0" font-size="9.5" fill="#000" stroke="#000" stroke-width="0.1" text-anchor="start" >129.980</text>
<rect x="1619" y="489" width="41" height="11" fill="#ff0000" shape-rendering="crispEdges"/>
<text transform="translate(1622 498) scale(1 1.08)" x="0" y="0" font-size="9.5" fill="#fff" stroke="#fff" stroke-width="0.1" text-anchor="start" >131.787</text>
<rect x="1619" y="517" width="41" height="11" fill="#dc143c" shape-rendering="crispEdges"/>
<text transform="translate(1622 526) scale(1 1.08)" x="0" y="0" font-size="9.5" fill="#fff" stroke="#fff" stroke-width="0.1" text-anchor="start" >131.391</text>
<rect x="1619" y="548" width="41" height="11" fill="#ffa500" shape-rendering="crispEdges"/>
<text transform="translate(1622 557) scale(1 1.08)" x="0" y="0" font-size="9.5" fill="#fff" stroke="#fff" stroke-width="0.1" text-anchor="start" >130.953</text>
<rect x="1619" y="562" width="41" height="11" fill="#000000" shape-rendering="crispEdges"/>
<text transform="translate(1622 571) scale(1 1.08)" x="0" y="0" font-size="9.5" fill="#fff" stroke="#fff" stroke-width="0.1" text-anchor="start" >130.763</text>
<rect x="1619" y="589" width="41" height="11" fill="#0000ff" shape-rendering="crispEdges"/>
<text transform="translate(1622 598) scale(1 1.08)" x="0" y="0" font-size="9.5" fill="#fff" stroke="#fff" stroke-width="0.1" text-anchor="start" >130.366</text>
<rect x="1619" y="614" width="41" height="11" fill="#0000ff" shape-rendering="crispEdges"/>
<text transform="translate(1622 623) scale(1 1.08)" x="0" y="0" font-size="9.5" fill="#fff" stroke="#fff" stroke-width="0.1" text-anchor="start" >130.011</text>
<g shape-rendering="crispEdges">
<rect x="1618" y="629" width="2" height="1" fill="#000"/>
<rect x="1618" y="658" width="2" height="1" fill="#000"/>
<rect x="1618" y="726" width="2" height="1" fill="#000"/>
<rect x="1618" y="731" width="2" height="1" fill="#000"/>
<rect x="1618" y="819" width="2" height="1" fill="#000"/>
<rect x="5" y="820" width="1" height="3" fill="#000"/>
<rect x="69" y="820" width="1" height="3" fill="#000"/>
<rect x="133" y="820" width="1" height="3" fill="#000"/>
<rect x="197" y="820" width="1" height="3" fill="#000"/>
<rect x="261" y="820" width="1" height="3" fill="#000"/>
<rect x="325" y="820" width="1" height="3" fill="#000"/>
<rect x="389" y="820" width="1" height="3" fill="#000"/>
<rect x="453" y="820" width="1" height="3" fill="#000"/>
<rect x="517" y="820" width="1" height="3" fill="#000"/>
<rect x="581" y="820" width="1" height="3" fill="#000"/>
<rect x="645" y="820" width="1" height="3" fill="#000"/>
<rect x="709" y="820" width="1" height="3" fill="#000"/>
<rect x="773" y="820" width="1" height="3" fill="#000"/>
<rect x="837" y="820" width="1" height="3" fill="#000"/>
<rect x="901" y="820" width="1" height="3" fill="#000"/>
<rect x="965" y="820" width="1" height="3" fill="#000"/>
<rect x="1029" y="820" width="1" height="3" fill="#000"/>
<rect x="1093" y="820" width="1" height="3" fill="#000"/>
<rect x="1157" y="820" width="1" height="3" fill="#000"/>
<rect x="1221" y="820" width="1" height="3" fill="#000"/>
<rect x="1285" y="820" width="1" height="3" fill="#000"/>
<rect x="1349" y="820" width="1" height="3" fill="#000"/>
</g>
<text transform="translate(1621 638) scale(1 1.08)" x="0" y="0" font-size="9.5" fill="#000" stroke="#000" stroke-width="0.1" text-anchor="start" >0.3945</text>
<text transform="translate(1621 662) scale(1 1.08)" x="0" y="0" font-size="9.5" fill="#000" stroke="#000" stroke-width="0.1" text-anchor="start" >0.00</text>
<text transform="translate(1621 724) scale(1 1.08)" x="0" y="0" font-size="9.5" fill="#000" stroke="#000" stroke-width="0.1" text-anchor="start" >-0.923</text>
<text transform="translate(1621 740) scale(1 1.08)" x="0" y="0" font-size="9.5" fill="#000" stroke="#000" stroke-width="0.1" text-anchor="start" >100</text>
<text transform="translate(1621 752) scale(1 1.08)" x="0" y="0" font-size="9.5" fill="#000" stroke="#000" stroke-width="0.1" text-anchor="start" >80</text>
<text transform="translate(1621 778) scale(1 1.08)" x="0" y="0" font-size="9.5" fill="#000" stroke="#000" stroke-width="0.1" text-anchor="start" >50</text>
<text transform="translate(1621 809) scale(1 1.08)" x="0" y="0" font-size="9.5" fill="#000" stroke="#000" stroke-width="0.1" text-anchor="start" >15</text>
<text transform="translate(1621 816) scale(1 1.08)" x="0" y="0" font-size="9.5" fill="#000" stroke="#000" stroke-width="0.1" text-anchor="start" >0</text>
<text transform="translate(4 832) scale(1 1.08)" x="0" y="0" font-size="9.5" fill="#000" stroke="#000" stroke-width="0.1" text-anchor="start" >3 Mar 2023</text>
<text transform="translate(68 832) scale(1 1.08)" x="0" y="0" font-size="9.5" fill="#000" stroke="#000" stroke-width="0.1" text-anchor="start" >6 Mar 00:00</text>
<text transform="translate(132 832) scale(1 1.08)" x="0" y="0" font-size="9.5" fill="#000" stroke="#000" stroke-width="0.1" text-anchor="start" >6 Mar 16:00</text>
<text transform="translate(196 832) scale(1 1.08)" x="0" y="0" font-size="9.5" fill="#000" stroke="#000" stroke-width="0.1" text-anchor="start" >7 Mar 08:00</text>
<text transform="translate(260 832) scale(1 1.08)" x="0" y="0" font-size="9.5" fill="#000" stroke="#000" stroke-width="0.1" text-anchor="start" >8 Mar 00:00</text>
<text transform="translate(324 832) scale(1 1.08)" x="0" y="0" font-size="9.5" fill="#000" stroke="#000" stroke-width="0.1" text-anchor="start" >8 Mar 16:00</text>
<text transform="translate(388 832) scale(1 1.08)" x="0" y="0" font-size="9.5" fill="#000" stroke="#000" stroke-width="0.1" text-anchor="start" >9 Mar 08:00</text>
<text transform="translate(452 832) scale(1 1.08)" x="0" y="0" font-size="9.5" fill="#000" stroke="#000" stroke-width="0.1" text-anchor="start" >10 Mar 00:00</text>
<text transform="translate(516 832) scale(1 1.08)" x="0" y="0" font-size="9.5" fill="#000" stroke="#000" stroke-width="0.1" text-anchor="start" >10 Mar 16:00</text>
<text transform="translate(580 832) scale(1 1.08)" x="0" y="0" font-size="9.5" fill="#000" stroke="#000" stroke-width="0.1" text-anchor="start" >13 Mar 08:00</text>
<text transform="translate(644 832) scale(1 1.08)" x="0" y="0" font-size="9.5" fill="#000" stroke="#000" stroke-width="0.1" text-anchor="start" >14 Mar 00:00</text>
<text transform="translate(708 832) scale(1 1.08)" x="0" y="0" font-size="9.5" fill="#000" stroke="#000" stroke-width="0.1" text-anchor="start" >14 Mar 16:00</text>
<text transform="translate(772 832) scale(1 1.08)" x="0" y="0" font-size="9.5" fill="#000" stroke="#000" stroke-width="0.1" text-anchor="start" >15 Mar 08:00</text>
<text transform="translate(836 832) scale(1 1.08)" x="0" y="0" font-size="9.5" fill="#000" stroke="#000" stroke-width="0.1" text-anchor="start" >16 Mar 00:00</text>
<text transform="translate(900 832) scale(1 1.08)" x="0" y="0" font-size="9.5" fill="#000" stroke="#000" stroke-width="0.1" text-anchor="start" >16 Mar 16:00</text>
<text transform="translate(964 832) scale(1 1.08)" x="0" y="0" font-size="9.5" fill="#000" stroke="#000" stroke-width="0.1" text-anchor="start" >17 Mar 08:00</text>
<text transform="translate(1028 832) scale(1 1.08)" x="0" y="0" font-size="9.5" fill="#000" stroke="#000" stroke-width="0.1" text-anchor="start" >20 Mar 00:00</text>
<text transform="translate(1092 832) scale(1 1.08)" x="0" y="0" font-size="9.5" fill="#000" stroke="#000" stroke-width="0.1" text-anchor="start" >20 Mar 16:00</text>
<text transform="translate(1156 832) scale(1 1.08)" x="0" y="0" font-size="9.5" fill="#000" stroke="#000" stroke-width="0.1" text-anchor="start" >21 Mar 08:00</text>
<text transform="translate(1220 832) scale(1 1.08)" x="0" y="0" font-size="9.5" fill="#000" stroke="#000" stroke-width="0.1" text-anchor="start" >22 Mar 00:00</text>
<text transform="translate(1284 832) scale(1 1.08)" x="0" y="0" font-size="9.5" fill="#000" stroke="#000" stroke-width="0.1" text-anchor="start" >22 Mar 16:00</text>
<text transform="translate(1348 832) scale(1 1.08)" x="0" y="0" font-size="9.5" fill="#000" stroke="#000" stroke-width="0.1" text-anchor="start" >23 Mar 08:00</text>
<polygon points="8,33.5 15,33.5 11.5,37.5" fill="#000"/>
<text transform="translate(20 38) scale(1 1.08)" x="0" y="0" font-size="9.35" fill="#000" stroke="#000" stroke-width="0.1" text-anchor="start" xml:space="preserve">USDJPY-,H4  130.559 130.902 130.535 130.763</text>
<text transform="translate(9 640) scale(1 1.08)" x="0" y="0" font-size="9.5" fill="#000" stroke="#000" stroke-width="0.1" text-anchor="start" >MACD(12,26,9) -0.4907 -0.3600</text>
<text transform="translate(9 742) scale(1 1.08)" x="0" y="0" font-size="9.5" fill="#000" stroke="#000" stroke-width="0.1" text-anchor="start" >RSI(14) 38.5984</text>
</svg>
</body></html>
